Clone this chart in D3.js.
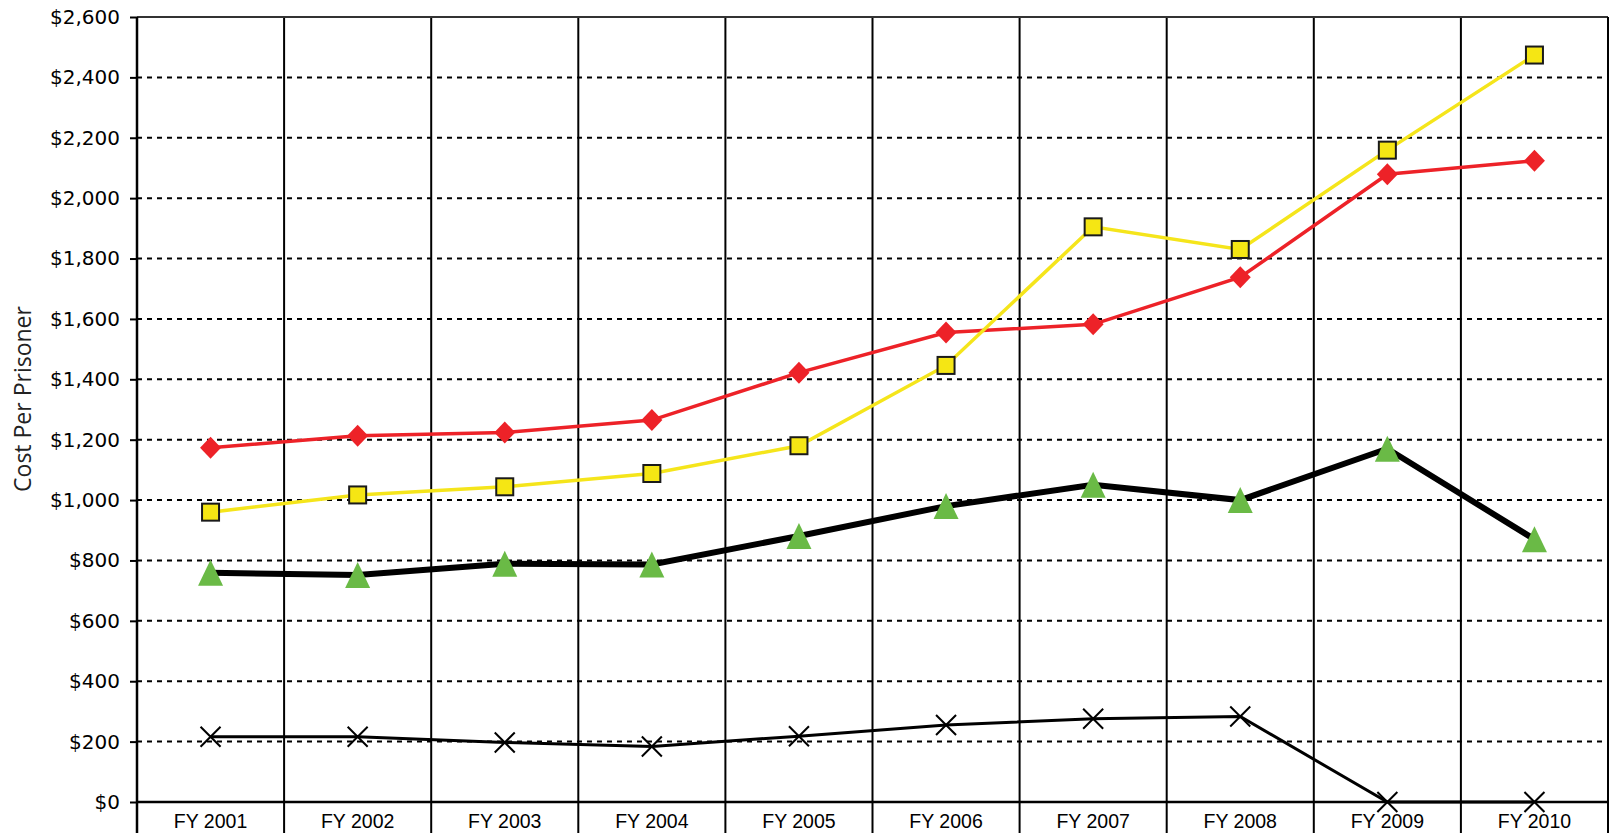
<!DOCTYPE html>
<html>
<head>
<meta charset="utf-8">
<script src="https://cdn.jsdelivr.net/npm/d3@7"></script>
<style>
  body { margin: 0; background: #fff; overflow: hidden; }
</style>
</head>
<body>
<div id="container"></div>
<script>
// chart values
var years = ["FY 2001", "FY 2002", "FY 2003", "FY 2004", "FY 2005",
  "FY 2006", "FY 2007", "FY 2008", "FY 2009", "FY 2010"];
var redSeries = [1173, 1213, 1224, 1265, 1422, 1555, 1582, 1738, 2079, 2124];
var yellowSeries = [960, 1017, 1044, 1088, 1180, 1446, 1905, 1830, 2159, 2474];
var greenSeries = [759, 752, 789, 787, 881, 980, 1051, 1000, 1170, 870];
var crossSeries = [216, 216, 197, 184, 218, 255, 276, 283, 0, 0];
var yTicks = [0, 200, 400, 600, 800, 1000, 1200, 1400, 1600, 1800, 2000, 2200, 2400, 2600];

// set the dimensions and margins of the graph
var margin = { top: 17, right: 2, bottom: 31, left: 137 },
  width = 1610 - margin.left - margin.right,
  height = 833 - margin.top - margin.bottom;

var svg = d3
  .select("#container")
  .append("svg")
  .attr("width", 1610)
  .attr("height", 833)
  .append("g")
  .attr("transform", "translate(" + margin.left + "," + margin.top + ")");

var x = d3.scaleBand().domain(years).range([0, width]).padding(0);
var y = d3.scaleLinear().domain([0, 2600]).range([height, 0]);
var cx = function (i) {
  return x(years[i]) + x.bandwidth() / 2;
};

// dotted horizontal gridlines
svg
  .selectAll(".hgrid")
  .data(yTicks)
  .enter()
  .append("line")
  .attr("x1", 0)
  .attr("x2", width)
  .attr("y1", function (d) { return y(d); })
  .attr("y2", function (d) { return y(d); })
  .attr("stroke", "#000")
  .attr("stroke-width", 2)
  .attr("stroke-dasharray", "5,5");

// vertical column lines (run down through the label row)
svg
  .selectAll(".vgrid")
  .data(years.slice(1))
  .enter()
  .append("line")
  .attr("x1", function (d) { return x(d); })
  .attr("x2", function (d) { return x(d); })
  .attr("y1", 0)
  .attr("y2", height + margin.bottom)
  .attr("stroke", "#000")
  .attr("stroke-width", 2);

// frame: top, right
svg.append("line").attr("x1", 0).attr("x2", width).attr("y1", 0).attr("y2", 0)
  .attr("stroke", "#333").attr("stroke-width", 2);
svg.append("line").attr("x1", width).attr("x2", width).attr("y1", 0).attr("y2", height + margin.bottom)
  .attr("stroke", "#000").attr("stroke-width", 2);

// Y axis
var yAxis = svg
  .append("g")
  .call(d3.axisLeft(y).tickValues(yTicks).tickSize(7).tickPadding(10)
    .tickFormat(function (d) { return "$" + d3.format(",")(d); }));
yAxis.select(".domain").remove();
yAxis.selectAll(".tick line").attr("stroke", "#000").attr("stroke-width", 2);
yAxis.selectAll("text")
  .attr("fill", "#000")
  .style("font-family", "'DejaVu Sans', Verdana, sans-serif")
  .style("font-size", "20px");
svg.append("line").attr("x1", 0).attr("x2", 0).attr("y1", 0).attr("y2", height + margin.bottom)
  .attr("stroke", "#000").attr("stroke-width", 2.5);

// X axis
var xAxis = svg
  .append("g")
  .attr("transform", "translate(0," + height + ")")
  .call(d3.axisBottom(x).tickSize(0).tickPadding(12));
xAxis.select(".domain").remove();
xAxis.selectAll("text")
  .attr("fill", "#000")
  .style("font-family", "'Liberation Sans', Arial, sans-serif")
  .style("font-size", "19.5px");
svg.append("line").attr("x1", 0).attr("x2", width).attr("y1", height).attr("y2", height)
  .attr("stroke", "#000").attr("stroke-width", 2.5);

// y-axis label
svg
  .append("text")
  .attr("text-anchor", "middle")
  .attr("transform", "rotate(-90)")
  .attr("x", -382)
  .attr("y", -margin.left + 31)
  .attr("fill", "#222")
  .style("font-family", "'Open Sans', sans-serif")
  .style("font-size", "23px")
  .text("Cost Per Prisoner");

var line = d3
  .line()
  .x(function (d, i) { return cx(i); })
  .y(function (d) { return y(d); });

// black line with crosses
svg.append("path").datum(crossSeries).attr("fill", "none")
  .attr("stroke", "#000").attr("stroke-width", 3).attr("d", line);
svg
  .selectAll(".cross")
  .data(crossSeries)
  .enter()
  .append("path")
  .attr("transform", function (d, i) { return "translate(" + cx(i) + "," + y(d) + ")"; })
  .attr("d", "M-10,-10L10,10M-10,10L10,-10")
  .attr("stroke", "#000")
  .attr("stroke-width", 2)
  .attr("fill", "none");

// thick black line with green triangles
svg.append("path").datum(greenSeries).attr("fill", "none")
  .attr("stroke", "#000").attr("stroke-width", 6).attr("d", line);
svg
  .selectAll(".tri")
  .data(greenSeries)
  .enter()
  .append("path")
  .attr("transform", function (d, i) { return "translate(" + cx(i) + "," + y(d) + ")"; })
  .attr("d", "M0,-13L12.5,13L-12.5,13Z")
  .attr("fill", "#6aba46");

// red line with diamonds
svg.append("path").datum(redSeries).attr("fill", "none")
  .attr("stroke", "#ed2228").attr("stroke-width", 3.5).attr("d", line);
svg
  .selectAll(".diamond")
  .data(redSeries)
  .enter()
  .append("path")
  .attr("transform", function (d, i) { return "translate(" + cx(i) + "," + y(d) + ")"; })
  .attr("d", "M0,-11L10.5,0L0,11L-10.5,0Z")
  .attr("fill", "#ed2228");

// yellow line with squares
svg.append("path").datum(yellowSeries).attr("fill", "none")
  .attr("stroke", "#f5e51b").attr("stroke-width", 3.5).attr("d", line);
svg
  .selectAll(".square")
  .data(yellowSeries)
  .enter()
  .append("rect")
  .attr("x", function (d, i) { return cx(i) - 8.5; })
  .attr("y", function (d) { return y(d) - 8.5; })
  .attr("width", 17)
  .attr("height", 17)
  .attr("fill", "#f5e614")
  .attr("stroke", "#1a1a1a")
  .attr("stroke-width", 2);
</script>
</body>
</html>
